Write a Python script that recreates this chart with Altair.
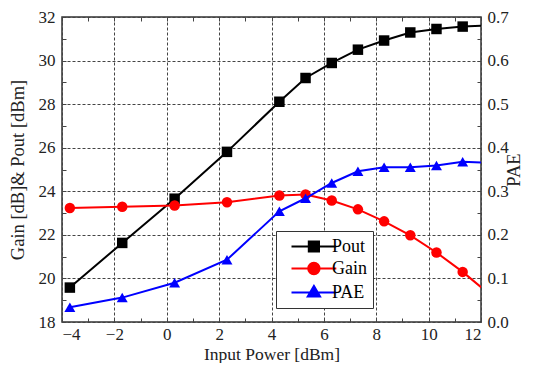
import altair as alt
import pandas as pd

# ---- data ----
input_power = [-3.7, -1.7, 0.3, 2.3, 4.3, 5.3, 6.3, 7.3, 8.3, 9.3, 10.3, 11.3, 12.3]
pout = [19.58, 21.63, 23.66, 25.81, 28.11, 29.20, 29.89, 30.50, 30.92, 31.29, 31.45, 31.56, 31.62]
gain = [23.23, 23.29, 23.35, 23.50, 23.81, 23.85, 23.58, 23.17, 22.62, 21.98, 21.19, 20.30, 19.30]
pae = [0.034, 0.056, 0.090, 0.143, 0.254, 0.284, 0.319, 0.346, 0.355, 0.355, 0.359, 0.368, 0.365]

series_names = ["Pout", "Gain", "PAE"]
series_colors = ["#000000", "#ff0000", "#0000ff"]
# shape scale listed in a different order so its legend does not merge with the colour legend
shape_domain = ["Gain", "Pout", "PAE"]
shape_range = ["circle", "square", "triangle-up"]

x_ticks = list(range(-4, 13))
y_left_ticks = list(range(18, 33))
y_right_ticks = [round(i * 0.05, 2) for i in range(0, 15)]

left_df = pd.DataFrame({
    "x": input_power * 2,
    "v": pout + gain,
    "series": ["Pout"] * len(input_power) + ["Gain"] * len(input_power),
})
right_df = pd.DataFrame({"x": input_power, "v": pae, "series": ["PAE"] * len(input_power)})

FONT = "Liberation Serif"
GRIDC = "#444444"

color_scale = alt.Scale(domain=series_names, range=series_colors)
shape_scale = alt.Scale(domain=shape_domain, range=shape_range)

# legend glyphs: line + marker (unit = 8 px for symbolSize 256)
legend_paths = {
    "Pout": "M0,0H5.6M2.175,-0.625H3.425V0.625H2.175Z",
    "Gain": "M0,0H5.6M2.1,0A0.7,0.7,0,1,1,3.5,0A0.7,0.7,0,1,1,2.1,0Z",
    "PAE": "M0,0H5.6M2.8,-0.8L3.55,0.5H2.05Z",
}
shape_signal = (
    "datum.value === 'Pout' ? '" + legend_paths["Pout"] + "' : "
    "datum.value === 'Gain' ? '" + legend_paths["Gain"] + "' : '" + legend_paths["PAE"] + "'"
)

legend = alt.Legend(
    title=None, orient="none", legendX=214, legendY=214,
    strokeColor="#333333", fillColor="white", padding=6,
    labelFont=FONT, labelFontSize=18, labelColor="black", labelOffset=31,
    symbolSize=256, rowPadding=2,
    symbolType={"expr": shape_signal},
    symbolStrokeWidth=2.2, symbolOpacity=1,
)

x_scale = alt.Scale(domain=[-4, 12], nice=False, zero=False)

common_axis = dict(
    labelFont=FONT, labelFontSize=17, labelColor="#222222",
    titleFont=FONT, titleFontWeight="normal", titleColor="#222222",
    tickColor=GRIDC, tickSize={"expr": "-4"}, domain=False, labelOverlap=False,
)

x_axis_bottom = alt.Axis(
    values=x_ticks, orient="bottom", title="Input Power [dBm]", titleFontSize=17.5,
    labelExpr="datum.value % 2 === 0 ? datum.label : ''",
    labelPadding=8, titlePadding=3,
    grid=True, gridColor=GRIDC, gridDash=[3, 2], gridWidth=1,
    gridOpacity={"condition": {"test": "datum.value % 2 === 0", "value": 1}, "value": 0},
    **common_axis,
)
x_axis_top = alt.Axis(
    values=x_ticks, orient="top", title=None, labels=False, grid=False,
    **common_axis,
)
y_axis_left = alt.Axis(
    values=y_left_ticks, orient="left", title="Gain [dB]& Pout [dBm]", titleFontSize=18.5,
    labelExpr="datum.value % 2 === 0 ? datum.label : ''",
    labelPadding=11, titlePadding=11,
    grid=True, gridColor=GRIDC, gridDash=[3, 2], gridWidth=1,
    gridOpacity={"condition": {"test": "datum.value % 2 === 0", "value": 1}, "value": 0},
    **common_axis,
)
y_axis_right = alt.Axis(
    values=y_right_ticks, orient="right", title="PAE", titleAngle=270, titleFontSize=18.5,
    labelExpr="round(datum.value * 100) % 10 === 0 ? format(datum.value, '.1f') : ''",
    labelPadding=10, titlePadding=15, grid=False,
    **common_axis,
)

y_left_scale = alt.Scale(domain=[18, 32], nice=False, zero=False)
y_right_scale = alt.Scale(domain=[0, 0.7], nice=False, zero=False)

left_line = alt.Chart(left_df).mark_line(strokeWidth=2, clip=True).encode(
    x=alt.X("x:Q", scale=x_scale, axis=x_axis_bottom),
    y=alt.Y("v:Q", scale=y_left_scale, axis=y_axis_left),
    color=alt.Color("series:N", scale=color_scale, legend=legend),
)
left_pts = alt.Chart(left_df).mark_point(filled=True, opacity=1, size=110, clip=True).encode(
    x=alt.X("x:Q", scale=x_scale, axis=x_axis_bottom),
    y=alt.Y("v:Q", scale=y_left_scale, axis=y_axis_left),
    color=alt.Color("series:N", scale=color_scale, legend=legend),
    shape=alt.Shape("series:N", scale=shape_scale, legend=None),
)
right_line = alt.Chart(right_df).mark_line(strokeWidth=2, clip=True).encode(
    x=alt.X("x:Q", scale=x_scale, axis=x_axis_top),
    y=alt.Y("v:Q", scale=y_right_scale, axis=y_axis_right),
    color=alt.Color("series:N", scale=color_scale, legend=legend),
)
right_pts = alt.Chart(right_df).mark_point(filled=True, opacity=1, size=120, clip=True).encode(
    x=alt.X("x:Q", scale=x_scale, axis=x_axis_top),
    y=alt.Y("v:Q", scale=y_right_scale, axis=y_axis_right),
    color=alt.Color("series:N", scale=color_scale, legend=legend),
    shape=alt.Shape("series:N", scale=shape_scale, legend=None),
)

left = alt.layer(left_line, left_pts)
right = alt.layer(right_line, right_pts)

chart = alt.layer(left, right).resolve_scale(y="independent").resolve_axis(
    x="independent", y="independent"
).properties(
    width=419, height=305,
    padding={"left": 54, "top": 9, "right": 45, "bottom": 41},
    autosize=alt.AutoSizeParams(type="none"),
    background="white",
).configure(font=FONT).configure_view(stroke="#333333", strokeWidth=1.5)

chart.save("out.html", embed_options={"renderer": "svg", "actions": False})
